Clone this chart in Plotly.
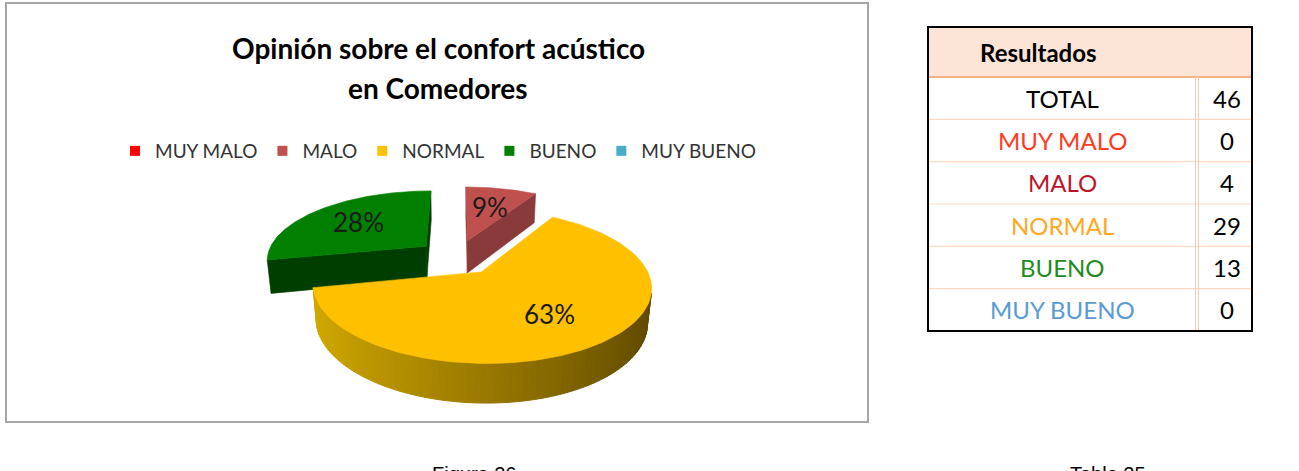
import numpy as np
import plotly.graph_objects as go

# ---------------- data ----------------
categories = ["MUY MALO", "MALO", "NORMAL", "BUENO", "MUY BUENO"]
counts = [0, 4, 29, 13, 0]
total_label = "TOTAL"
total_value = 46
table_header = "Resultados"
title_lines = ["Opinión sobre el confort acústico", "en Comedores"]
fig_caption = "Figura 26"
table_caption = "Tabla 25"

# ---------------- styles ----------------
top_colors = ["#FF0000", "#C0504D", "#FFC000", "#007F00", "#4BACC6"]
side_colors = ["#A00000", "#8A3A3A", "#B08A00", "#003E00", "#2E7F95"]
legend_colors = ["#FF0000", "#C0504D", "#FFC000", "#008000", "#4BACC6"]
table_text_colors = ["#FF3B1F", "#C0142A", "#FFA824", "#1E8C1E", "#5B9BD5"]

W, H = 1299, 471
FONT = "Lato"

# 3D pie geometry (screen pixels)
CX, CY = 457, 257
S = 160.0
ALPHA = np.radians(25.5)
DCAM = 5.0
EXPLODE = 0.255
THICK = 0.235

fig = go.Figure()

CAM = np.array([0.0, DCAM * np.sin(ALPHA), -DCAM * np.cos(ALPHA)])


def project(X, Y, Z):
    X = np.asarray(X, float); Y = np.asarray(Y, float); Z = np.asarray(Z, float)
    v = Y * np.cos(ALPHA) + Z * np.sin(ALPHA)
    w = Z * np.cos(ALPHA) - Y * np.sin(ALPHA)
    f = DCAM / (DCAM + w)
    return CX + S * X * f, CY - S * v * f


def visible(normal, point):
    return float(np.dot(normal, CAM - np.asarray(point))) > 0


def poly(xs, ys, color, lw=0.6):
    xs = list(xs) + [xs[0]]
    ys = list(ys) + [ys[0]]
    fig.add_trace(go.Scatter(x=xs, y=ys, mode="lines", fill="toself",
                             fillcolor=color, line=dict(color=color, width=lw),
                             hoverinfo="skip", showlegend=False))


def lerp_color(c1, c2, t):
    c = [int(round(a + (b - a) * t)) for a, b in zip(c1, c2)]
    return "rgb(%d,%d,%d)" % tuple(c)


total = sum(counts)
cum = np.concatenate([[0], np.cumsum(counts)]) / total
slices = []
for i, v in enumerate(counts):
    if v <= 0:
        continue
    t1, t2 = 2 * np.pi * cum[i], 2 * np.pi * cum[i + 1]
    mid = (t1 + t2) / 2
    ox, oz = EXPLODE * np.sin(mid), EXPLODE * np.cos(mid)
    slices.append(dict(i=i, t1=t1, t2=t2, mid=mid, ox=ox, oz=oz))

# draw farthest slices first
slices.sort(key=lambda s: -s["oz"])

labels = []
for s in slices:
    i, t1, t2, ox, oz = s["i"], s["t1"], s["t2"], s["ox"], s["oz"]
    apex_top = np.array([ox, 0, oz])
    # radial faces
    for ang, sign in ((t1, -1), (t2, 1)):
        normal = np.array([sign * np.cos(ang), 0, -sign * np.sin(ang)])
        if visible(normal, apex_top):
            X = [ox, ox + np.sin(ang), ox + np.sin(ang), ox]
            Y = [0, 0, -THICK, -THICK]
            Z = [oz, oz + np.cos(ang), oz + np.cos(ang), oz]
            xs, ys = project(X, Y, Z)
            poly(xs, ys, side_colors[i])
    # outer wall
    n = max(8, int(np.degrees(t2 - t1) / 2))
    ts = np.linspace(t1, t2, n + 1)
    for a, b in zip(ts[:-1], ts[1:]):
        m = (a + b) / 2
        normal = np.array([np.sin(m), 0, np.cos(m)])
        p = np.array([ox + np.sin(m), 0, oz + np.cos(m)])
        if not visible(normal, p):
            continue
        X = [ox + np.sin(a), ox + np.sin(b), ox + np.sin(b), ox + np.sin(a)]
        Y = [0, 0, -THICK, -THICK]
        Z = [oz + np.cos(a), oz + np.cos(b), oz + np.cos(b), oz + np.cos(a)]
        xs, ys = project(X, Y, Z)
        if i == 2:
            tt = (1 + np.sin(m)) / 2  # 0 at left (9 o'clock), 1 at right
            col = lerp_color((212, 170, 0), (92, 70, 0), tt)
        else:
            col = side_colors[i]
        poly(xs, ys, col, lw=1.0)
    # top face
    ta = np.linspace(t1, t2, 120)
    X = np.concatenate([[ox], ox + np.sin(ta)])
    Z = np.concatenate([[oz], oz + np.cos(ta)])
    xs, ys = project(X, np.zeros_like(X), Z)
    poly(xs, ys, top_colors[i])
    lx, ly = project([ox + 0.62 * np.sin(s["mid"])], [0], [oz + 0.62 * np.cos(s["mid"])])
    labels.append((float(lx[0]), float(ly[0]), "%d%%" % round(100 * counts[i] / total)))

for lx, ly, txt in labels:
    fig.add_annotation(x=lx, y=ly, text=txt, showarrow=False,
                       font=dict(family=FONT, size=26, color="#1a1a1a"))

# legend entries
for cat, col in zip(categories, legend_colors):
    fig.add_trace(go.Scatter(x=[None], y=[None], mode="markers", name=cat,
                             marker=dict(symbol="square", size=10, color=col)))

# title
for k, line in enumerate(title_lines):
    fig.add_annotation(x=438, y=48 + 40 * k, text="<b>%s</b>" % line, showarrow=False,
                       font=dict(family=FONT, size=28, color="#000000"))

shapes = []
# chart border
shapes.append(dict(type="rect", x0=6, y0=3, x1=868, y1=422,
                   line=dict(color="#A6A6A6", width=2)))

# table
TX0, TX1, TY0, HY1, TY1 = 928, 1252, 27, 77, 331
COLX = 1197
shapes.append(dict(type="rect", x0=TX0, y0=TY0, x1=TX1, y1=HY1,
                   fillcolor="#FCE4D6", line=dict(width=0), layer="below"))
row_h = (TY1 - HY1) / 6
for r in range(1, 6):
    y = HY1 + r * row_h
    shapes.append(dict(type="line", x0=TX0, x1=TX1, y0=y, y1=y,
                       line=dict(color="#FBD9C0", width=1.2)))
shapes.append(dict(type="line", x0=TX0, x1=TX1, y0=HY1, y1=HY1,
                   line=dict(color="#F4B183", width=2)))
for dx in (-1.5, 1.5):
    shapes.append(dict(type="line", x0=COLX + dx, x1=COLX + dx, y0=HY1, y1=TY1,
                       line=dict(color="#F8CBAD", width=1)))
shapes.append(dict(type="rect", x0=TX0, y0=TY0, x1=TX1, y1=TY1,
                   line=dict(color="#000000", width=2)))

fig.add_annotation(x=978, y=52, xanchor="left", text="<b>%s</b>" % table_header,
                   showarrow=False, font=dict(family=FONT, size=24, color="#000000"))
row_labels = [total_label] + categories
row_values = [total_value] + counts
row_colors = ["#000000"] + table_text_colors
for r, (lab, val, col) in enumerate(zip(row_labels, row_values, row_colors)):
    yc = HY1 + (r + 0.5) * row_h
    fig.add_annotation(x=(TX0 + COLX) / 2, y=yc, text=lab, showarrow=False,
                       font=dict(family=FONT, size=24, color=col))
    fig.add_annotation(x=(COLX + TX1) / 2 + 2, y=yc, text=str(val), showarrow=False,
                       font=dict(family=FONT, size=24, color="#000000"))

# captions (partially cut at bottom, as in the source)
fig.add_annotation(x=430, y=461, xanchor="left", yanchor="top", text=fig_caption,
                   showarrow=False, font=dict(family="Liberation Sans", size=20, color="#000000"))
fig.add_annotation(x=1068, y=461, xanchor="left", yanchor="top", text=table_caption,
                   showarrow=False, font=dict(family="Liberation Sans", size=20, color="#000000"))

fig.update_layout(
    width=W, height=H, margin=dict(l=0, r=0, t=0, b=0),
    paper_bgcolor="white", plot_bgcolor="white",
    xaxis=dict(range=[0, W], visible=False, fixedrange=True, domain=[0, 1]),
    yaxis=dict(range=[H, 0], visible=False, fixedrange=True, domain=[0, 1]),
    shapes=shapes,
    showlegend=True,
    legend=dict(orientation="h", x=438 / W, xanchor="center", y=1 - 151 / H,
                yanchor="middle", font=dict(family=FONT, size=19, color="#333333"),
                itemwidth=30, bgcolor="rgba(0,0,0,0)"),
)

fig.write_html("out.html")
